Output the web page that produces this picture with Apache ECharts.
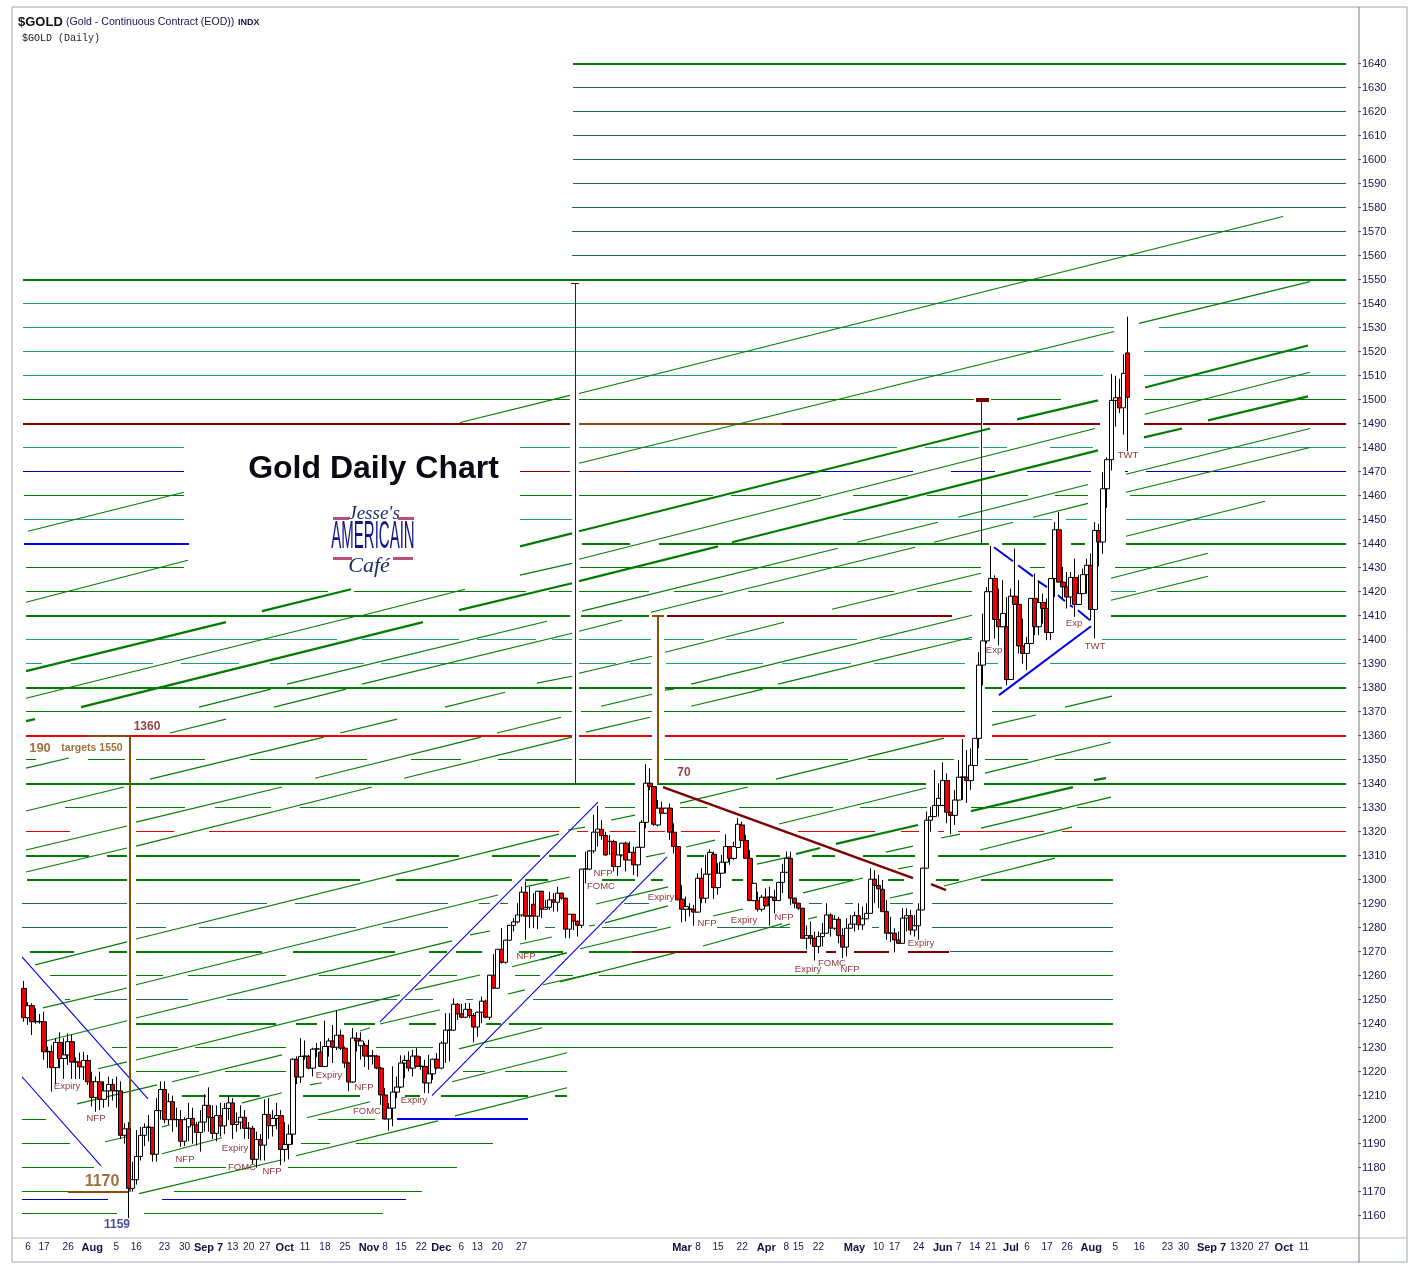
<!DOCTYPE html>
<html><head><meta charset="utf-8"><style>html,body{margin:0;background:#fff}#c{width:1421px;height:1274px}</style>
<script src="https://cdn.jsdelivr.net/npm/echarts@6/dist/echarts.min.js"></script></head><body><div id="c"></div>
<script>
// Daily bars: [open, close, low, high]
const bars2010a=[[1254.7,1242.5,1240.8,1257.8],[1242.5,1247.5,1239.5,1249],[1247.5,1240.8,1235.3,1248.5],[1240.8,1241,1240,1246.4],[1240.8,1240.9,1240,1244],[1240.8,1228.3,1225,1245],[1228.3,1228.5,1221.5,1230.5],[1228.3,1221.7,1211.7,1231],[1221.7,1232.2,1215,1234],[1232.2,1225.5,1221.4,1236.4],[1225.5,1227,1217,1234],[1227,1232.5,1222.8,1236],[1232.5,1224,1217,1235.5],[1224,1224.1,1217,1226],[1224,1222,1217,1228],[1222,1224.7,1216.5,1228.3],[1224.7,1215.8,1214.5,1227],[1215.8,1209.3,1205.5,1220],[1209.3,1215.8,1203.3,1218],[1215.8,1208.5,1204,1220],[1208.5,1212,1205,1216],[1212,1214.7,1205.4,1218],[1214.7,1212,1208,1217],[1212,1212.1,1205,1218],[1212,1193.5,1192,1216],[1193.5,1196.2,1190,1198.5],[1196.2,1171.4,1159,1199],[1171.4,1175,1170,1182.5],[1175,1184.7,1173,1195.7],[1184.7,1193.5,1183,1197],[1193.5,1196.8,1189,1198.5],[1196.8,1197,1191,1202],[1196.8,1185.6,1182.5,1197],[1185.6,1203.8,1182.5,1209],[1203.8,1212.6,1200,1216],[1212.6,1200,1198.5,1216],[1200,1207.5,1198,1211],[1207.5,1200,1195,1210],[1200,1200.1,1197,1205],[1200,1191,1188.7,1204],[1191,1200,1189,1201],[1197,1200.5,1191,1207],[1200.5,1197.8,1190,1205],[1197.8,1194.7,1189.2,1199],[1194.7,1199,1186.7,1204],[1199,1206,1195,1210.6],[1206,1201,1195,1213.5],[1201,1194.3,1192,1206],[1194.3,1201.7,1191,1206],[1201.7,1197.4,1193,1207],[1197.4,1204.7,1194,1207],[1204.7,1207,1200,1210],[1207,1198,1192,1209],[1198,1199,1195,1203],[1199,1201,1196,1206],[1201,1196.4,1192,1204],[1196.4,1196.5,1192,1199],[1196.4,1183.5,1181.5,1197.5],[1183.5,1191.7,1180,1195],[1191.7,1189.4,1183,1194],[1189.4,1202.2,1183,1208.5],[1202.2,1197.5,1192,1209],[1197.5,1200.5,1193,1204],[1200.5,1201.7,1196,1207],[1201.7,1187.6,1181,1204]];
const bars2010b=[[1187.6,1189.7,1182.5,1199],[1189.7,1194,1183.5,1198],[1194,1225.2,1189.6,1225.6],[1225.2,1217.8,1214.8,1226.4],[1217.8,1226.4,1215.3,1234],[1226.4,1226.5,1225,1233],[1226.4,1221.5,1221,1227],[1221.5,1229.4,1218,1230],[1229.4,1229.5,1226,1232],[1228.2,1222.2,1222,1232.6],[1222.2,1230.5,1222,1241.3],[1230.5,1232.8,1226.3,1234],[1232.8,1230.2,1223.6,1239.5],[1230.2,1235.2,1229,1245.4],[1235.2,1229.8,1229,1237.5],[1229.8,1223.6,1221.5,1230.5],[1223.6,1215.7,1211.8,1224],[1215.7,1234,1215.3,1238.2],[1233.9,1232.8,1228.4,1236.4],[1230.8,1232.8,1225,1236.4],[1231,1226.5,1222,1232],[1226.5,1226.6,1220.8,1233.3],[1226.5,1226.6,1223,1229],[1226.5,1221.5,1221,1227],[1221.5,1210.3,1206.2,1222],[1210.3,1200.3,1200,1213.2],[1200.3,1204.8,1195.4,1206.9],[1204.8,1211.5,1197.2,1222.2],[1211.5,1213.6,1209,1218],[1213.6,1223.6,1213.2,1226.8],[1223.6,1224.7,1217.3,1226.8],[1224.7,1221.5,1220.1,1228.4],[1221.5,1226.5,1218,1229.1],[1226.5,1222.2,1222,1229.8],[1222.2,1222.3,1220.8,1226.4],[1222.2,1215.3,1211.1,1225],[1215.3,1219.1,1211,1227],[1219.1,1225.2,1216.6,1225.5],[1225.2,1221.5,1221,1227.8],[1221.5,1231.9,1221,1232.6],[1231.9,1237.3,1223.6,1244.4],[1237.3,1237.4,1224.3,1244.4],[1237.3,1248.1,1237,1250.6],[1248.1,1244.1,1241.6,1248.6],[1244.1,1242.7,1242.3,1248.3],[1242.7,1246,1242.3,1248.6],[1246,1243.4,1242.3,1248.6],[1243.4,1238.6,1232.2,1244.4],[1238.6,1244.8,1234.6,1245],[1244.8,1249.4,1240.2,1251.3],[1249.4,1242.7,1242.3,1250],[1242.7,1260.2,1241.6,1260.5],[1260.2,1254.8,1254.5,1269],[1254.8,1271,1254.5,1271.2],[1271,1265.6,1265,1279.8],[1265.6,1274.8,1265,1275],[1274.8,1281,1274.5,1281.2],[1281,1282.4,1278.4,1284],[1282.4,1285.3,1281.8,1290.2],[1285.3,1294.8,1284.6,1297.1],[1294.8,1284.8,1274.9,1299.2],[1284.8,1285,1279.8,1297.1],[1289.8,1284.8,1279.8,1294.4],[1284.8,1295.2,1279.4,1295.4],[1295.2,1287.7,1284,1295.4],[1287.7,1288.5,1287.5,1291.6],[1288.5,1291.6,1287.4,1295],[1291.6,1290.6,1286.7,1294.4],[1290.6,1294.4,1286.7,1297.1],[1294.4,1292.3,1291.6,1294.6],[1292.3,1279.4,1275.6,1292.5],[1279.4,1285.6,1275.6,1285.8],[1285.6,1282.7,1279,1285.8],[1282.7,1281,1276.3,1283],[1281,1304.4,1279.8,1304.6],[1304.4,1304.5,1298.5,1311.7]];
const bars2011a=[[1304.4,1312,1304,1312.4],[1312,1319.8,1311,1327],[1319.8,1321.1,1313.8,1330.7],[1321,1318.4,1316.6,1324.9],[1318.4,1310.3,1310,1320],[1315.9,1316,1310.3,1318.6],[1315.9,1305.5,1303.4,1316.6],[1305.5,1310.3,1301.6,1310.5],[1310.3,1315.2,1309.6,1315.4],[1315.2,1308.2,1303.4,1315.9],[1308.2,1311.4,1308,1315.9],[1311.4,1306.2,1302,1313.8],[1306.2,1313.5,1301.3,1313.7],[1313.5,1323.9,1313.3,1324.9],[1323.9,1340.2,1321.4,1348.2],[1340.2,1338.8,1337.4,1346.4],[1338.8,1323.1,1322.4,1339],[1322.8,1329.8,1322.1,1333.2],[1329.8,1327.7,1327.5,1332.5],[1327.7,1329.8,1327.5,1330],[1329.8,1319.8,1316.6,1331.8],[1319.8,1313.8,1311,1323.5],[1313.8,1291.6,1291.4,1314],[1291.9,1287.7,1282.2,1297.8],[1287.7,1288.8,1282.6,1293],[1287.7,1287.8,1284.7,1290.2],[1287.7,1286.5,1280.8,1289.5],[1286.5,1300.6,1286.3,1302.7],[1300.6,1292.3,1290.2,1304.8],[1292.3,1302.3,1290.2,1310.3],[1302.3,1311.4,1302,1312.7],[1310.6,1296.7,1291.9,1311.7],[1296.7,1302.7,1293.7,1306.9],[1302.7,1307.3,1302.5,1310.3],[1307.3,1313.8,1302.7,1318.9],[1313.8,1308.9,1306.2,1314],[1308.9,1313.8,1308.2,1315.9],[1313.4,1323.1,1313.2,1325.6],[1322.8,1316.3,1316.1,1324.2],[1316.3,1308.9,1308.7,1318.6],[1308.9,1291.3,1291.1,1312.4],[1291.3,1298.5,1291.1,1298.7],[1291.3,1287.7,1286.7,1295],[1287.7,1292.7,1286.7,1293.7],[1292.7,1289.1,1288.9,1296.4],[1292.7,1292.8,1280.9,1297.1],[1292.7,1291.3,1286,1295.8],[1291.3,1298.9,1291.1,1299.1],[1298.9,1303.1,1294.4,1306.6],[1303.1,1308.9,1302.7,1311.7],[1308.9,1292.3,1289.5,1311.7],[1292.3,1290.2,1288.1,1292.5],[1290.2,1288.1,1287.4,1290.4],[1288.1,1275.6,1275.4,1288.3],[1275.6,1276.7,1271,1281],[1276.7,1275.6,1273,1282.6],[1275.6,1272.2,1266.3,1278.4],[1272.2,1276.3,1269.4,1278.4],[1276.3,1277.7,1272.2,1281.9],[1277.7,1285.3,1277.5,1290.2],[1285.3,1279.8,1276.3,1286],[1279.8,1283.5,1279,1285.3],[1283.5,1276.7,1273.5,1284.6],[1276.7,1271.9,1267.3,1279.8],[1271.9,1279.8,1268,1284],[1279.8,1281.5,1279.6,1285.3],[1281.5,1285,1278.4,1286.7],[1285,1281.2,1279.1,1290.2],[1281.2,1283.7,1279,1288.8],[1283.7,1286,1283.5,1290.2],[1286,1300.2,1285.8,1304.8],[1300.2,1297.6,1290.2,1304],[1297.6,1296.2,1288.1,1302]];
const bars2011b=[[1296,1286.7,1286.5,1299.9],[1286.7,1277.7,1275,1291.6],[1277.7,1277.8,1274,1284.6],[1277.7,1274.9,1269.7,1279.8],[1274.9,1273.5,1273.3,1278.4],[1273.5,1284,1273.3,1288.1],[1284,1285,1278.4,1288.1],[1285,1279,1277,1287.4],[1279,1280.8,1276.3,1285.3],[1280.8,1287.4,1275,1290.2],[1287.4,1304.8,1287.2,1305],[1304.8,1324.8,1304.6,1328.4],[1324.8,1326.3,1320,1330.4],[1326.3,1330.9,1326.1,1345.7],[1330.9,1333.9,1326.3,1340.2],[1330.9,1341.3,1330.7,1348.9],[1341.3,1328.1,1323.5,1344.3],[1328.1,1326.8,1319,1328.3],[1326.8,1333.2,1322.8,1337.4],[1333.2,1342.7,1333,1349.9],[1342.7,1342.8,1333.2,1358.6],[1342.7,1341.3,1332,1354],[1341.3,1347.7,1337.4,1354.7],[1347.6,1358.9,1347.4,1359],[1358.9,1389.4,1354.7,1394.9],[1389.4,1399.5,1381,1410.9],[1399.5,1420,1398.4,1422],[1420,1425.5,1419.9,1439],[1425.5,1408.4,1400.5,1426.8],[1408.4,1405.4,1397.7,1421.3],[1405.4,1410.9,1405.2,1424.8],[1405.4,1383.4,1381,1417.8],[1383.4,1418.1,1383.2,1421.3],[1418.1,1414.7,1414.4,1438],[1414.7,1397.4,1394.3,1424.8],[1397.4,1394.3,1390,1408.8],[1394.3,1398.4,1387.3,1401.2],[1398.4,1417.2,1398.2,1417.4],[1417.2,1405.4,1401.9,1427.6],[1405.4,1415.5,1401.9,1424.8],[1415.5,1413,1406.7,1419.2],[1413,1403,1399.8,1417.2],[1403,1425.5,1399.8,1425.7],[1425.5,1445.8,1417.8,1449],[1445.8,1424,1423.8,1453.2],[1424,1422,1417.1,1430.3],[1422,1417.8,1413,1428.2],[1417.8,1425.9,1414.8,1428.2],[1425.9,1414.7,1409.5,1433.8],[1414.7,1419.2,1414.5,1426.9],[1419.2,1427.1,1419,1429.6],[1427.1,1431,1419.2,1433.8],[1431,1412.6,1408.1,1435.9],[1412.6,1445.5,1400.5,1449],[1445.5,1440.7,1430.6,1448.3],[1440.7,1462.9,1435.8,1469.8],[1462.9,1475,1455,1476],[1475,1499.7,1470.5,1510.8],[1499.7,1500.8,1488.8,1510],[1500.8,1496.6,1494.4,1508.7],[1496.6,1511,1485.5,1519],[1519.5,1501,1478.6,1534.6]];

// Date axis: tick labels and the bar each one falls on
const tickLabels=['6','17','26','Aug','5','16','23','30','Sep 7','13','20','27','Oct','11','18','25','Nov','8','15','22','Dec','6','13','20','27','Mar','8','15','22','Apr','8','15','22','May','10','17','24','Jun','7','14','21','Jul','6','17','26','Aug','5','16','23','30','Sep 7','13','20','27','Oct','11'];
const tickBars=[1,5,11,17,23,28,35,40,46,52,56,60,65,70,75,80,86,90,94,99,104,109,113,118,124,164,168,173,179,185,190,193,198,207,213,217,223,229,233,237,241,246,250,255,260,266,272,278,285,289,296,302,305,309,314,319];
const slotCount=333;
const priceMin=1150, priceMax=1660, priceStep=10;
const priceTicks=[1160,1170,1180,1190,1200,1210,1220,1230,1240,1250,1260,1270,1280,1290,1300,1310,1320,1330,1340,1350,1360,1370,1380,1390,1400,1410,1420,1430,1440,1450,1460,1470,1480,1490,1500,1510,1520,1530,1540,1550,1560,1570,1580,1590,1600,1610,1620,1630,1640];

// Drawn levels: [price, fromBar, toBar, fromBar, toBar, ...]
const levelsMajor=[[1640,137.25,330.5],[1550,-.25,330.5],[1440,139.5,151.5,158.75,241.25,244.5,255.5,261.75,265.25,275.5,330.5],[1410,.5,136.5,139.25,156.25,271.75,330.5],[1380,.5,137,138.75,157,160.25,235.25,240.25,244.5,248.75,330.5],[1340,.5,152.75,158.25,225.5,240,330.5],[1310,.5,16.25,20.75,25.75,28,108.75,117,129,131.25,138,165.75,170,183,189,197,202.75,209.75,222.75,228.5,330.5],[1300,.75,25.75,28,84,93,122,125.25,131,144.5,152.75,156.75,159.75,177,179.75,184.5,187.25,193.75,207.25,216,220,228,233.75,239.25,272.25],[1270,1.5,12.5,21.25,25.75,28,59.5,67.25,92.75,101.25,105.75,108,114.5,123.75,134.75,141.25,152],[1240,28,63,68,73.25,80,87.75,96.25,103,115.5,119.25,121.25,272.25],[1210,39.5,45.5,48.75,59,69.75,84,95.25,99,104.25,126,132.75,135.75]];
const levelsMinor=[[1500,-.25,136.5,138.75,237.5,241.75,259.25,280,330.5],[1460,0,40,124,137,138.75,172.25,176.75,199.25,207.25,221,225.75,251,257.75,266,276.5,330.5],[1430,.5,40,139,239.25,251.5,255.25,272.75,330.5],[1420,.5,76,82.5,125.5,131.25,137,138.75,156.25,162.5,174.75,181,217.5,223.25,237,283.25,330.5],[1370,.5,137,139.25,157,160,235.25,242,330.5],[1350,.5,3,16,25.25,28,45.25,56.5,85.75,96.75,109.25,118.5,137,138.75,157,160,206,211,232.5,240.25,251,257.75,330.5],[1330,10.25,25.75,28,40.25,47.75,61.75,69,139,145.25,152.75,164,170.75,178.75,202.25,209,225.75,236.75,259.5,263.25,330.5],[1260,6.5,25.75,28,34.75,41,65.5,73.75,99.25,101.25,108.25,122.75,129,132.75,137.25,143.75,272.25],[1230,22,25.75,28,38.5,42.75,65.5,88,102.25,115.25,272.25],[1220,28,43.75,50.25,65.5,109.75,115.25,120.25,135.75],[1200,-.5,5.5,73.5,87.75],[1190,-.5,11.5,69.25,76.5,83,117.25],[1180,-.5,17.5,37.5,50.5,66,108.25],[1170,-.5,11,37.5,99.5],[1160.8,-.5,23.25,30,89.75]];
const levelsTeal=[[1540,-.25,330.5],[1530,-.25,272.5,283.75,330.5],[1520,-.25,272.5,280,330.5],[1510,-.25,269.75,280,330.5],[1480,-.25,40,124,136.5,138.75,218.25,225.25,238.75,239.75,245.75,256.5,267.25,280,330.5],[1450,0,40,124,137,204.75,257,260.5,265.75,275.5,330.5],[1420,271.75,278],[1400,.5,78.25,84.5,108.75,113.25,128,132,137,138.75,156.75,160,170,175.5,208.25,214,237,269.5,330.5],[1390,.5,4.5,11.75,32.25,39.25,53.75,61.5,85,89.25,137,138.75,148,151.5,156.75,160.5,184.75,189.5,206.75,212.5,235.25,240.5,243.5,256.5,330.5]];
const levelsDark=[[1630,137.25,330.5],[1620,137.25,330.5],[1610,137.25,330.5],[1600,137.25,330.5],[1590,137.25,330.5],[1580,137,330.5],[1570,137,330.5],[1560,137,330.5],[1290,-.5,25.75,28,60.75,67.75,106,113.75,116.5,119,121,150,156.25,196.25,199.5,205.25,207.25,216.5,222.25,227,272.25],[1280,-.5,25.75,28,35.5,43.75,83,89.75,106,130.25,132.75,144.5,158.25,173.25,191.5,212,213.75,227,272.25],[1270,231.5,272.25],[1250,10.25,11.5,17.5,25.75,28,41,50.75,93.25,95.25,102.25,110.5,112.25,127.25,272.25]];
const levelsMaroon=[[1490,-.25,136.5,189.5,239.25,239.75,269,280,330.5],[1410,160.75,232],[1270,152,195.75,200.5,203,207.5,216.25,221,231.25]];
const levelsMaroonThin=[[1470,124,136.5,138.75,150.75]];
const levelsRed=[[1360,.5,15.75,26.5,137,138.75,157,160.25,235.25,242,330.5]];
const levelsRedThin=[[1320,.5,11.5,28,37.5,46.25,133.75,138.25,141,146.5,153,156,160.25,164.25,174,193.5,212.75,219.25,223.75,228.5,230,233.5,255,259.5,330.5]];
const levelsBrown=[[1490,138.75,189.5],[1360,15.75,26.5],[1170,11,26],[1410,157,160]];
const levelsBlueThin=[[1470,-.25,40,150.75,222.25,231.75,242.75,250.75,266.75,275.25,276,280.5,330.5],[1166.7,-.5,21,34.5,95.5]];
const levelsBlueWide=[[1440,0,41.25],[1200.4,93.25,126]];

// Sloping channel lines: [fromBar, fromPrice, toBar, toPrice]
const slantsThin=[[109,1490.5,136.5,1501.8],[138.75,1502.6,314.75,1576.3],[138.75,1473.5,272.5,1528.4],[278.75,1531.8,321.5,1549.2],[138.75,1433.5,267.75,1488],[280.25,1493.9,321.5,1511.4],[139.5,1411.9,203.5,1438.1],[156.75,1411.4,222.75,1438.5],[202,1412.7,239.25,1427.7],[138.75,1403.5,149.5,1408.1],[160.25,1394.8,190,1407.3],[166.75,1381.5,237,1410.2],[188.5,1381.5,237,1401],[138.75,1386,157,1393.1],[160.25,1379,162.5,1379.4],[144.25,1372.3,157,1377.3],[166.75,1372.3,184.75,1379.4],[140.5,1361.5,156.5,1367.7],[242,1364.4,253,1368.6],[260.25,1371.9,272,1376.5],[188,1341.9,230,1359],[240.25,1344.4,271.75,1357.3],[208.25,1440.6,228.5,1448.9],[227.5,1440.6,247.25,1448.9],[233.5,1451,266,1464.7],[252.25,1451,266,1456.8],[271.75,1425.6,296,1436],[271.75,1416.4,296,1426.4],[275.5,1468.9,321.5,1488],[275.5,1461.4,321.5,1480.1],[275.5,1443.1,310.25,1457.7],[1,1445.2,40,1461.4],[.5,1415.6,41,1433.1],[84.75,1410.2,110.25,1421],[124,1426.9,137,1431.8],[.5,1375.6,83,1409.8],[65.75,1381.5,130.75,1407.7],[84.5,1381.5,137,1402.7],[128.25,1381.9,137,1384.8],[43.75,1371.9,61.75,1379.4],[62.5,1371.9,80.5,1379.4],[105.25,1371.9,120.25,1378.1],[36.5,1361.1,50.5,1366.9],[79,1361.1,93.25,1366.9],[118.25,1361.1,134.25,1367.7],[.5,1346.5,11.25,1350.7],[31.5,1341.9,75,1359.4],[72.75,1342.3,114.25,1359.4],[95,1342.3,137,1359.4],[.5,1328.6,25,1338.6],[28,1324,64.5,1338.6],[28,1314,87,1338.6],[.5,1312.4,25.75,1322.4],[.5,1303.2,25.75,1313.2],[28,1275.3,133.75,1319],[28,1256.2,118.5,1293.6],[111.5,1277,116.5,1278.6],[2.75,1264.5,25.75,1274.1],[28,1242.4,107,1274.5],[124,1273.2,132,1276.1],[129.25,1266.6,135.5,1269.5],[125.25,1297,136.5,1301.1],[4.75,1246.6,25.75,1254.9],[5.75,1232.9,25.75,1241.2],[18.5,1221.2,25.75,1224.1],[13.25,1206.6,33.25,1214.5],[20.25,1190.8,25.75,1192.9],[28,1224.9,94,1252],[97.75,1254.1,114,1260.3],[89,1239.9,104,1245.8],[84,1237,86.5,1238.3],[71.5,1214.5,74.5,1215.4],[70.75,1200.8,86.5,1207.5],[68,1185,103.5,1199.5],[107.75,1201.6,135.75,1213.3],[107,1215.8,135.75,1227.9],[108.75,1229.5,129.5,1238.3],[121,1252.4,125.25,1254.1],[129.75,1256.2,144,1261.6],[122,1263.7,135.75,1269.5],[28.75,1169.2,64.5,1183.3],[34.5,1185.8,49.5,1192.5],[54.5,1207,64.5,1211.2],[37,1215.8,64.5,1227],[34.5,1197,36.5,1197.9],[164,1331.9,181,1338.6],[146.75,1324.9,152.75,1326.9],[155.5,1309.5,160.25,1311.1],[165.5,1313.6,172.75,1316.5],[183.25,1306.5,191.5,1309.5],[188.75,1323.2,225.5,1338.2],[194.75,1294.5,209.75,1300.7],[143,1289.9,161,1297],[145.25,1282,161,1289.1],[141.25,1280.7,142.75,1281.1],[139,1271.2,161.75,1280.3],[169.75,1272.4,189.5,1281.6],[172.25,1284.9,179.75,1287.8],[134,1257.4,162.75,1269.5],[136,1320.7,140.25,1321.9],[215.5,1311.5,222.25,1314],[218.5,1304.5,222.25,1305.7],[216.5,1292.4,222.25,1294.5],[196,1283.6,198.25,1284.5],[189,1280.3,191.5,1281.6],[230,1297.4,257.75,1309],[229.25,1317.4,234,1319],[239.25,1321.5,271.75,1334.4],[239,1312.4,262,1321.9]];
const slantsThick=[[138.75,1445.2,241.5,1488],[248.25,1491.8,268.5,1499.7],[280.25,1505.1,321,1522.6],[177,1440.6,268.5,1478.9],[296,1491.4,321,1501.4],[280,1484.3,289.5,1488],[138.75,1424.4,173.5,1438.9],[108.75,1412.3,137,1423.5],[124,1438.9,137,1444.3],[59.5,1411.9,81.75,1421],[.5,1386.9,50.5,1407.3],[14.25,1371.9,99.75,1407.3],[.5,1366.1,2.75,1366.9],[236.75,1328.6,262.25,1338.6],[267.5,1341.5,270.5,1342.3],[203,1314.9,223.5,1322.8],[193,1310.7,199,1313.2]];
const trendsBlueThin=[[-.5,1267.8,31,1208.7],[-.5,1217.9,19.25,1180.8],[89,1240.8,143.5,1332.3],[102,1210,160.75,1309.5]];
const trendsBlueWide=[[243.75,1376.9,266.75,1405.6],[242.5,1438.5,247.25,1432.7],[248.5,1431,252.25,1426.4],[253.5,1424.4,255.75,1421.9],[258.5,1418.5,260.25,1416],[261.5,1414.4,262.25,1413.5],[263.5,1412.3,266.5,1408.1]];
const trendsMaroon=[[159.75,1338.6,222.25,1300.7],[226.75,1298.2,230.5,1295.7]];
const capsMaroon=[[238,1500,241.25,1500]];
const measureMaroon=[[137.75,1340,137.75,1548.4],[136.75,1548.4,138.75,1548.4],[239.25,1440,239.25,1500]];
const measureBrown=[[26.5,1170,26.5,1360],[158.5,1340,158.5,1410]];

// Chart notes
const noteText=['Expiry','NFP','NFP','Expiry','FOMC','NFP','Expiry','NFP','FOMC','Expiry','NFP','NFP','FOMC','Expiry','NFP','Expiry','NFP','Expiry','FOMC','NFP','Expiry','Exp','Exp','TWT','TWT'];
const noteBar=[10.75,18,40.25,52.75,54.5,62,76.25,85,85.75,97.5,125.5,144.75,144.25,159.25,170.75,180,190,196,202,206.5,224.25,242.5,262.5,267.75,276];
const notePrice=[1213.7,1200.4,1183.3,1187.9,1180,1178.3,1218.3,1213.3,1203.3,1207.9,1268.2,1302.8,1297.4,1292.8,1281.6,1283.2,1284.5,1262.8,1265.3,1262.8,1273.6,1395.6,1406.9,1397.3,1476.8];

const bars=[...bars2010a,...bars2010b,...bars2011a,...bars2011b];
const categories=Array.from({length:slotCount},()=>'');
tickBars.forEach((b,i)=>{categories[b]=tickLabels[i];});
const boldTicks=new Set(['Aug','Sep 7','Oct','Nov','Dec','Mar','Apr','May','Jun','Jul']);

const fromLevels=rows=>{const out=[];rows.forEach(r=>{for(let i=1;i<r.length;i+=2)out.push([r[i],r[0],r[i+1],r[0]]);});return out;};
const seg=(data,color,width)=>({type:'custom',coordinateSystem:'cartesian2d',xAxisIndex:1,yAxisIndex:0,silent:true,animation:false,z:2,clip:true,encode:{x:[0,2],y:[1,3]},data,
  renderItem:(p,api)=>{
    const a=api.coord([api.value(0),api.value(1)]),b=api.coord([api.value(2),api.value(3)]);
    const snap=v=>width<1.6?Math.floor(v)+.5:Math.round(v);
    if(api.value(1)===api.value(3)){a[1]=b[1]=snap(a[1]);}
    if(api.value(0)===api.value(2)){a[0]=b[0]=snap(a[0]);}
    return {type:'line',shape:{x1:a[0],y1:a[1],x2:b[0],y2:b[1]},style:{stroke:color,lineWidth:width,fill:null}};
  }});
const GREEN='#007c00',TEAL='#1f9a78',DARK='#1f6a50',MAROON='#7d0000',BROWN='#8a4b0c',BLUE='#0000f0';
const THIN=1.15;
const note=(items,color,font,weight,family)=>({type:'scatter',xAxisIndex:1,yAxisIndex:0,symbolSize:1,silent:true,animation:false,z:6,itemStyle:{color:'rgba(0,0,0,0)'},
  data:items.map(d=>({name:d[0],value:[d[1],d[2]]})),
  label:{show:true,position:'inside',formatter:'{b}',color,fontSize:font,fontWeight:weight,fontFamily:family||'Liberation Sans'}});

const chart=echarts.init(document.getElementById('c'),null,{renderer:'canvas'});
chart.setOption({
  animation:false,backgroundColor:'#fff',
  grid:{left:22,width:1336,top:15.7,height:1224},
  xAxis:[{type:'category',data:categories,gridIndex:0,position:'bottom',boundaryGap:true,axisLine:{show:false},axisTick:{show:false},splitLine:{show:false},
      axisLabel:{interval:0,hideOverlap:false,margin:3,color:'#14144a',fontSize:10,fontFamily:'Liberation Sans',
        formatter:v=>v===''?'':(boldTicks.has(v)?'{b|'+v+'}':v),rich:{b:{fontWeight:'bold',fontSize:11,color:'#101040',fontFamily:'Liberation Sans'}}}},
    {type:'value',gridIndex:0,position:'top',min:-.5,max:333.5,show:false}],
  yAxis:{type:'value',position:'right',min:priceMin,max:priceMax,interval:priceStep,splitLine:{show:false},
    axisLine:{show:false,onZero:false},axisTick:{show:true,length:3,customValues:priceTicks,lineStyle:{color:'#666'}},
    axisLabel:{margin:4,customValues:priceTicks,formatter:v=>String(v),color:'#14144a',fontSize:11,fontFamily:'Liberation Sans'}},
  series:[
    seg(fromLevels(levelsDark),DARK,THIN),seg(fromLevels(levelsTeal),TEAL,THIN),seg(fromLevels(levelsMinor),GREEN,THIN),
    seg(fromLevels(levelsMajor),GREEN,2),seg(fromLevels(levelsRedThin),'#e80000',THIN),seg(fromLevels(levelsRed),'#f00000',2),
    seg(fromLevels(levelsMaroon),MAROON,2),seg(fromLevels(levelsMaroonThin),MAROON,THIN),seg(fromLevels(levelsBrown),BROWN,2),
    seg(fromLevels(levelsBlueThin),'#0000b8',THIN),seg(fromLevels(levelsBlueWide),BLUE,2),
    seg(slantsThin,GREEN,1.1),seg(slantsThick,GREEN,2.2),
    seg(trendsBlueThin,BLUE,1.1),seg(trendsBlueWide,BLUE,2),seg(trendsMaroon,MAROON,2.4),seg(capsMaroon,MAROON,4),
    seg(measureMaroon,MAROON,1),seg(measureBrown,BROWN,2),
    {type:'candlestick',xAxisIndex:0,yAxisIndex:0,data:bars,barWidth:5,z:4,silent:true,animation:false,
      itemStyle:{color:'#ffffff',color0:'#f00000',borderColor:'#000',borderColor0:'#000',borderWidth:1}},
    note(noteText.map((t,i)=>[t,noteBar[i],notePrice[i]]),'#6e0000',9.5,'normal'),
    note([['1360',30.75,1363.6],['70',165,1344.4]],'#7d0f0f',12,'bold'),
    note([['190',4,1354.8]],'#8a4b0c',13,'bold'),
    note([['targets 1550',17,1354.8]],'#8a4b0c',10.5,'bold'),
    note([['1170',19.5,1174.2]],'#8a4b0c',16,'bold'),
    note([['1159',23.25,1156.3]],'#1c1c80',12,'bold')
  ],
  graphic:[
    {type:'rect',z:0,silent:true,shape:{x:12,y:7,width:1395,height:1255},style:{fill:'none',stroke:'#9aa6b6',lineWidth:1}},
    {type:'line',z:0,silent:true,shape:{x1:12,y1:1238,x2:1407,y2:1238},style:{stroke:'#b4b4b4',lineWidth:1}},
    {type:'line',z:0,silent:true,shape:{x1:1359,y1:7,x2:1359,y2:1262},style:{stroke:'#7d7d7d',lineWidth:1}},
    {type:'text',silent:true,style:{x:18,y:16,text:'$GOLD',font:'bold 13px "Liberation Sans"',fill:'#111'}},
    {type:'text',silent:true,style:{x:66,y:17,text:'(Gold - Continuous Contract (EOD))',font:'10.6px "Liberation Sans"',fill:'#14144a'}},
    {type:'text',silent:true,style:{x:238,y:18,text:'INDX',font:'bold 9px "Liberation Sans"',fill:'#14144a'}},
    {type:'text',silent:true,style:{x:22,y:33,text:'$GOLD (Daily)',font:'10px "Liberation Mono"',fill:'#222'}},
    {type:'text',silent:true,style:{x:373.5,y:469,text:'Gold Daily Chart',font:'bold 32px "Liberation Sans"',fill:'#0a0a14',align:'center',verticalAlign:'middle'}},
    {type:'text',silent:true,style:{x:374,y:514,text:"Jesse's",font:'italic 19px "Liberation Serif"',fill:'#1a2c6b',align:'center',verticalAlign:'middle'}},
    {type:'text',silent:true,x:373,y:537,scaleX:.5,scaleY:1.3,style:{x:0,y:0,text:'AMERICAIN',font:'30px "Liberation Sans Narrow","Liberation Sans"',fill:'#14148c',align:'center',verticalAlign:'middle'}},
    {type:'text',silent:true,style:{x:369,y:566,text:'Café',font:'italic 22px "Liberation Serif"',fill:'#1a2c6b',align:'center',verticalAlign:'middle'}},
    {type:'rect',silent:true,shape:{x:333,y:517,width:16,height:3},style:{fill:'#b8507a'}},
    {type:'rect',silent:true,shape:{x:398,y:517,width:16,height:3},style:{fill:'#b8507a'}},
    {type:'rect',silent:true,shape:{x:333,y:557,width:19,height:3},style:{fill:'#b8507a'}},
    {type:'rect',silent:true,shape:{x:393,y:557,width:20,height:3},style:{fill:'#b8507a'}}
  ]
});
</script></body></html>
